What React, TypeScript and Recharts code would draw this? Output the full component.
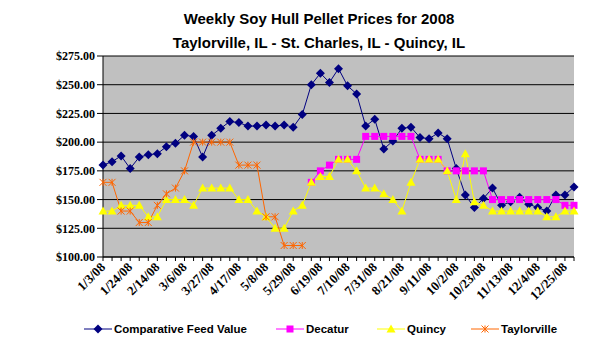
import React from "react";
import { LineChart, Line, XAxis, YAxis, CartesianGrid } from "recharts";

const dates = [
  "1/3/08", "1/10/08", "1/17/08", "1/24/08", "1/31/08", "2/7/08", "2/14/08", "2/21/08", "2/28/08",
  "3/6/08", "3/13/08", "3/20/08", "3/27/08", "4/3/08", "4/10/08", "4/17/08", "4/24/08", "5/1/08",
  "5/8/08", "5/15/08", "5/22/08", "5/29/08", "6/5/08", "6/12/08", "6/19/08", "6/26/08", "7/3/08",
  "7/10/08", "7/17/08", "7/24/08", "7/31/08", "8/7/08", "8/14/08", "8/21/08", "8/28/08", "9/4/08",
  "9/11/08", "9/18/08", "9/25/08", "10/2/08", "10/9/08", "10/16/08", "10/23/08", "10/30/08", "11/6/08",
  "11/13/08", "11/20/08", "11/27/08", "12/4/08", "12/11/08", "12/18/08", "12/25/08", "1/1/09",
];

const comparativeFeedValue = [
  180, 183, 188, 177, 187, 189, 190, 196, 199, 206,
  205, 187, 206, 212, 218, 217, 214, 214, 215, 214,
  215, 213, 224, 250, 260, 252, 264, 249, 242, 214,
  220, 194, 201, 212, 213, 204, 203, 208, 203, 177,
  154, 143, 151, 160, 145, 148, 152, 146, 143, 140,
  154, 154, 161,
];

const decatur = [
  null, null, null, null, null, null, null, null, null, null,
  null, null, null, null, null, null, null, null, null, null,
  null, null, null, 165, 175, 180, 185, 185, 185, 205,
  205, 205, 205, 205, 205, 185, 185, 185, 175, 175,
  175, 175, 175, 150, 150, 150, 150, 150, 150, 150,
  150, 145, 145,
];

const quincy = [
  140, 140, 145, 145, 145, 135, 135, 150, 150, 150,
  145, 160, 160, 160, 160, 150, 150, 140, 135, 125,
  125, 140, 145, 165, 170, 170, 185, 185, 175, 160,
  160, 155, 150, 140, 165, 185, 185, 185, 175, 150,
  190, 148, 145, 140, 140, 140, 140, 140, 140, 135,
  135, 140, 140,
];

const taylorville = [
  165, 165, 140, 140, 130, 130, 145, 155, 160, 175,
  200, 200, 200, 200, 200, 180, 180, 180, 135, 135,
  110, 110, 110,
];

const yTicks = [100, 125, 150, 175, 200, 225, 250, 275];

const data = dates.map((date, i) => ({
  date,
  cfv: comparativeFeedValue[i],
  decatur: decatur[i] ?? null,
  quincy: quincy[i],
  taylorville: taylorville[i] ?? null,
}));

const SANS = '"Liberation Sans", Arial, sans-serif';
const SERIF = '"Liberation Serif", "Times New Roman", serif';

const NAVY = "#000080";
const MAGENTA = "#FF00FF";
const YELLOW = "#FFFF00";
const ORANGE = "#FF6600";

// marker shapes
const diamond = (cx: number, cy: number) => (
  <path d={`M${cx},${cy - 4.5}L${cx + 4.5},${cy}L${cx},${cy + 4.5}L${cx - 4.5},${cy}Z`} fill={NAVY} />
);
const square = (cx: number, cy: number) => (
  <rect x={cx - 3.5} y={cy - 3.5} width={7} height={7} fill={MAGENTA} />
);
const triangle = (cx: number, cy: number) => (
  <path d={`M${cx},${cy - 4.5}L${cx + 4.5},${cy + 3.5}L${cx - 4.5},${cy + 3.5}Z`} fill={YELLOW} />
);
const star = (cx: number, cy: number) => (
  <path
    d={`M${cx - 3.5},${cy - 3.5}L${cx + 3.5},${cy + 3.5}M${cx + 3.5},${cy - 3.5}L${cx - 3.5},${cy + 3.5}M${cx},${cy - 3.5}L${cx},${cy + 3.5}`}
    stroke={ORANGE}
    strokeWidth={1}
    fill="none"
  />
);

const makeDot = (shape: (cx: number, cy: number) => React.ReactNode, name: string) => (props: any) => {
  const { cx, cy, index, value } = props;
  if (value == null || cx == null || cy == null) return <g key={`${name}-e-${index}`} />;
  return <g key={`${name}-${index}`}>{shape(cx, cy)}</g>;
};

const XTick = (props: any) => {
  const { x, y, payload, index } = props;
  if (index % 3 !== 0) return <g />;
  return (
    <g transform={`translate(${x + 3},${y + 5})`}>
      <text transform="rotate(-45)" textAnchor="end" fontFamily={SERIF} fontWeight="bold" fontSize={13} fill="#000">
        {payload.value}
      </text>
    </g>
  );
};

const legendItems = [
  { label: "Comparative Feed Value", color: NAVY, shape: diamond, left: 84 },
  { label: "Decatur", color: MAGENTA, shape: square, left: 276 },
  { label: "Quincy", color: YELLOW, shape: triangle, left: 377 },
  { label: "Taylorville", color: ORANGE, shape: star, left: 471 },
];

const App = () => {
  return (
    <div style={{ position: "absolute", left: 0, top: 0, width: 600, height: 359, background: "#fff" }}>
      <div
        style={{
          position: "absolute",
          left: 19,
          top: 7,
          width: 600,
          textAlign: "center",
          fontFamily: SANS,
          fontWeight: "bold",
          fontSize: 15,
          lineHeight: "24px",
          color: "#000",
        }}
      >
        <div>Weekly Soy Hull Pellet Prices for 2008</div>
        <div>Taylorville, IL - St. Charles, IL - Quincy, IL</div>
      </div>

      <LineChart width={600} height={359} data={data} margin={{ top: 56, right: 26, left: 0, bottom: 42 }}>
        <CartesianGrid vertical={false} stroke="#000" strokeWidth={1} fill="#C0C0C0" fillOpacity={1} />
        <XAxis
          dataKey="date"
          scale="point"
          interval={0}
          height={60}
          tick={<XTick />}
          tickSize={4}
          tickLine={{ stroke: "#000" }}
          axisLine={{ stroke: "#000" }}
        />
        <YAxis
          width={103}
          domain={[100, 275]}
          ticks={yTicks}
          interval={0}
          tickSize={6}
          tickFormatter={(v: number) => `$${v.toFixed(2)}`}
          tick={{ fontFamily: SERIF, fontWeight: "bold", fontSize: 12, fill: "#000" }}
          tickLine={{ stroke: "#000" }}
          axisLine={{ stroke: "#000" }}
        />
        <Line
          dataKey="cfv"
          stroke={NAVY}
          strokeWidth={1}
          type="linear"
          dot={makeDot(diamond, "cfv")}
          activeDot={false}
          isAnimationActive={false}
        />
        <Line
          dataKey="decatur"
          stroke={MAGENTA}
          strokeWidth={1}
          type="linear"
          dot={makeDot(square, "dec")}
          activeDot={false}
          isAnimationActive={false}
        />
        <Line
          dataKey="quincy"
          stroke={YELLOW}
          strokeWidth={1}
          type="linear"
          dot={makeDot(triangle, "qui")}
          activeDot={false}
          isAnimationActive={false}
        />
        <Line
          dataKey="taylorville"
          stroke={ORANGE}
          strokeWidth={1}
          type="linear"
          dot={makeDot(star, "tay")}
          activeDot={false}
          isAnimationActive={false}
        />
      </LineChart>

      {legendItems.map((item) => (
        <div
          key={item.label}
          style={{
            position: "absolute",
            left: item.left,
            top: 320,
            height: 18,
            display: "flex",
            alignItems: "center",
            fontFamily: SANS,
            fontWeight: "bold",
            fontSize: 11.5,
            whiteSpace: "nowrap",
            color: "#000",
          }}
        >
          <svg width={28} height={12} style={{ marginRight: 2 }}>
            <line x1={0} y1={6} x2={28} y2={6} stroke={item.color} strokeWidth={1} />
            {item.shape(14, 6)}
          </svg>
          <span>{item.label}</span>
        </div>
      ))}
    </div>
  );
};

export default App;
